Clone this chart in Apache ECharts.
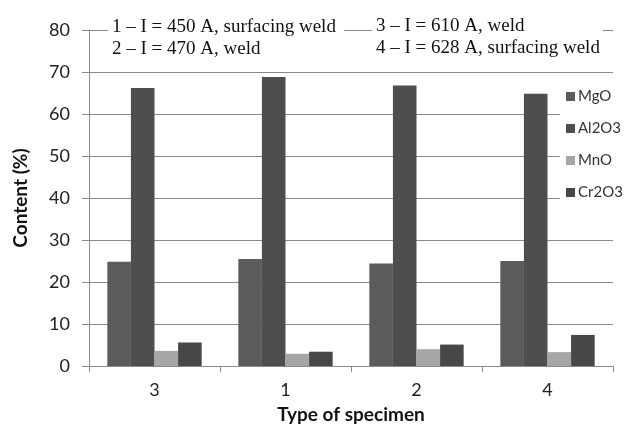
<!DOCTYPE html>
<html>
<head>
<meta charset="utf-8">
<script src="https://cdn.jsdelivr.net/npm/echarts@6/dist/echarts.min.js"></script>
<style>
html,body{margin:0;padding:0;background:#fff;}
#chart{width:624px;height:425px;}
</style>
</head>
<body>
<div id="chart"></div>
<script>
var categories = ['3', '1', '2', '4'];
var seriesNames = ['MgO', 'Al2O3', 'MnO', 'Cr2O3'];
var mgo = [24.8, 25.5, 24.4, 25.0];
var al2o3 = [66.2, 68.8, 66.8, 64.8];
var mno = [3.6, 2.9, 4.0, 3.3];
var cr2o3 = [5.6, 3.4, 5.1, 7.4];
var yTicks = [0, 10, 20, 30, 40, 50, 60, 70, 80];
var noteLeft = ['1 \u2013 I = 450 A, surfacing weld', '2 \u2013 I = 470 A, weld'];
var noteRight = ['3 \u2013 I = 610 A, weld', '4 \u2013 I = 628 A, surfacing weld'];

var colors = ['#5b5b5b', '#4e4e4e', '#a6a6a6', '#474747'];
var values = [mgo, al2o3, mno, cr2o3];

var chart = echarts.init(document.getElementById('chart'));
var series = seriesNames.map(function (n, i) {
  return {
    name: n,
    type: 'bar',
    data: values[i],
    barGap: '0%',
    barCategoryGap: '28%',
    itemStyle: { color: colors[i] },
    emphasis: { disabled: true },
    z: 2
  };
});

chart.setOption({
  animation: false,
  backgroundColor: '#fff',
  color: colors,
  grid: { left: 89, right: 11, top: 30, bottom: 59, containLabel: false, outerBoundsMode: 'none' },
  legend: {
    orient: 'vertical',
    left: 560,
    top: 76,
    padding: [13, 6, 13, 6],
    backgroundColor: '#fff',
    itemWidth: 9,
    itemHeight: 9,
    itemGap: 17,
    icon: 'rect',
    data: seriesNames,
    textStyle: { fontFamily: 'Lato', fontSize: 15, color: '#333', padding: [0, 0, 0, -2] },
    z: 5
  },
  xAxis: {
    type: 'category',
    data: categories,
    name: 'Type of specimen',
    nameLocation: 'middle',
    nameGap: 39,
    nameTextStyle: { fontFamily: 'Lato', fontWeight: 'bold', fontSize: 19, color: '#111' },
    axisLine: { lineStyle: { color: '#8a8a8a', width: 1 } },
    axisTick: { show: true, length: 6, lineStyle: { color: '#8a8a8a' } },
    axisLabel: { fontFamily: 'Lato', fontSize: 18, color: '#222', margin: 15 }
  },
  yAxis: {
    type: 'value',
    min: 0,
    max: 80,
    interval: 10,
    name: 'Content (%)',
    nameLocation: 'middle',
    nameGap: 59,
    nameTextStyle: { fontFamily: 'Lato', fontWeight: 'bold', fontSize: 19, color: '#111' },
    axisLine: { show: true, lineStyle: { color: '#8a8a8a', width: 1 } },
    axisTick: { show: true, length: 7, lineStyle: { color: '#8a8a8a' } },
    axisLabel: {
      fontFamily: 'Lato', fontSize: 18, color: '#222', margin: 19,
      formatter: function (v) { return yTicks.indexOf(v) >= 0 ? String(v) : ''; }
    },
    splitLine: { lineStyle: { color: '#8a8a8a', width: 1 } }
  },
  series: series,
  graphic: [
    { type: 'rect', left: 108, top: 13, shape: { width: 236, height: 48 }, style: { fill: '#fff' }, z: 10 },
    { type: 'rect', left: 372, top: 13, shape: { width: 231, height: 48 }, style: { fill: '#fff' }, z: 10 },
    { type: 'text', left: 112, top: 16, z: 11,
      style: { text: noteLeft.join('\n'), font: '19px "Liberation Serif"', fill: '#111', lineHeight: 22 } },
    { type: 'text', left: 376, top: 15, z: 11,
      style: { text: noteRight.join('\n'), font: '19px "Liberation Serif"', fill: '#111', lineHeight: 22 } }
  ]
});
</script>
</body>
</html>
